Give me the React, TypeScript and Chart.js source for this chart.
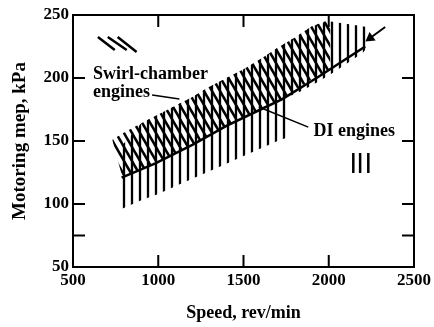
import React, { useEffect, useRef } from "react";
import { Chart, registerables } from "chart.js";

Chart.register(...registerables);

// ---- axes ----
const xTicks = [500, 1000, 1500, 2000, 2500];
const yTicks = [50, 100, 150, 200, 250];
const yMinorTicks = [75];

// ---- swirl-chamber engines band (diagonal hatch) ----
const swirlSpeed = [730, 790, 900, 1000, 1100, 1200, 1300, 1400, 1500, 1600, 1700, 1800, 1900, 1980, 2010];
const swirlUpper = [151, 156, 164, 171, 178, 185, 193, 200, 207, 215, 224, 232, 241, 245, 242];
const swirlLower = [151, 121, 127, 133, 140, 147, 155, 162, 169, 175, 181, 190, 199, 205, 208];

// ---- DI engines band (vertical hatch) ----
const diSpeed = [785, 900, 1000, 1100, 1200, 1300, 1400, 1500, 1600, 1700, 1760, 1770, 1800, 1900, 2000, 2100, 2200, 2230];
const diUpper = [146, 164, 171, 178, 185, 193, 200, 207, 215, 224, 229, 230, 232, 241, 245, 243, 241, 240];
const diLower = [96, 103, 108, 114, 120, 126, 132, 138, 144, 150, 153, 186, 187, 194, 202, 211, 220, 225];

// ---- DI mean line ----
const diMeanSpeed = [785, 980, 1200, 1400, 1600, 1725, 1940, 2214];
const diMeanMep = [121, 132, 147, 162, 175, 183, 201, 225];

// ---- arrow at upper right ----
const arrowSpeed = [2331, 2243];
const arrowMep = [240.5, 231.7];

// ---- leader lines [speed1, mep1, speed2, mep2] ----
const leaderSwirl = [964, 186.5, 1124, 183.3];
const leaderDI = [1590, 177, 1880, 161];

// ---- hatch keys ----
const swirlKey = [
  [646, 232.5, 745, 222.2],
  [704, 232.5, 815, 222.2],
  [762, 232.5, 873, 220.6],
];
const diKey = [
  [2144, 140.5, 2144, 124.6],
  [2184, 140.5, 2184, 124.6],
  [2232, 140.5, 2232, 124.6],
];

// ---- annotation texts [text, speed, mep] ----
const swirlLabel1 = ["Swirl-chamber", 617, 203];
const swirlLabel2 = ["engines", 617, 189];
const diLabel = ["DI engines", 1910, 158];

const xTitle = "Speed, rev/min";
const yTitle = "Motoring mep, kPa";

const FONT = "'Liberation Serif', 'Times New Roman', serif";

function pts(xs: number[], ys: number[]) {
  return xs.map((x, i) => ({ x, y: ys[i] }));
}

function segs(list: number[][]) {
  const out: any[] = [];
  list.forEach(([a, b, c, d]) => {
    out.push({ x: a, y: b }, { x: c, y: d }, { x: c, y: null });
  });
  return out;
}

function makePattern(kind: "v" | "d") {
  const c = document.createElement("canvas");
  const W = 8;
  const H = kind === "v" ? 8 : 14;
  c.width = W;
  c.height = H;
  const g = c.getContext("2d")!;
  g.strokeStyle = "#000";
  g.lineCap = "butt";
  g.beginPath();
  if (kind === "v") {
    g.lineWidth = 2.3;
    g.moveTo(W / 2, 0);
    g.lineTo(W / 2, H);
  } else {
    g.lineWidth = 2.6;
    for (const [dx, dy] of [[0, 0], [-W, 0], [W, 0], [0, -H], [0, H]]) {
      g.moveTo(dx, dy);
      g.lineTo(dx + W, dy + H);
    }
  }
  g.stroke();
  return g.createPattern(c, "repeat")!;
}

const framePlugin = {
  id: "frameTicks",
  afterDatasetsDraw(chart: any) {
    const { ctx, chartArea, scales } = chart;
    const { left, right, top, bottom } = chartArea;
    const x = scales.x;
    const y = scales.y;
    ctx.save();
    ctx.strokeStyle = "#000";
    ctx.lineWidth = 2;
    ctx.strokeRect(left, top, right - left, bottom - top);
    const tl = 12;
    ctx.beginPath();
    xTicks.slice(1, -1).forEach((v) => {
      const px = x.getPixelForValue(v);
      ctx.moveTo(px, bottom);
      ctx.lineTo(px, bottom - tl);
      ctx.moveTo(px, top);
      ctx.lineTo(px, top + tl);
    });
    [...yMinorTicks, ...yTicks.slice(1, -1)].forEach((v) => {
      const py = y.getPixelForValue(v);
      ctx.moveTo(left, py);
      ctx.lineTo(left + tl, py);
      ctx.moveTo(right, py);
      ctx.lineTo(right - tl, py);
    });
    ctx.stroke();

    ctx.fillStyle = "#000";
    ctx.font = `bold 18px ${FONT}`;
    ctx.textBaseline = "middle";
    ctx.textAlign = "left";
    [swirlLabel1, swirlLabel2, diLabel].forEach(([t, sx, sy]) => {
      ctx.fillText(t as string, x.getPixelForValue(sx as number), y.getPixelForValue(sy as number));
    });
    ctx.restore();
  },
};

export default function App() {
  const ref = useRef<HTMLCanvasElement>(null);
  useEffect(() => {
    document.body.style.margin = "0";
    const vPat = makePattern("v");
    const dPat = makePattern("d");
    const hidden = { borderWidth: 0, borderColor: "rgba(0,0,0,0)", pointRadius: 0 };
    const chart = new Chart(ref.current!, {
      type: "line",
      data: {
        datasets: [
          { data: pts(diSpeed, diUpper), fill: "+1", backgroundColor: vPat, ...hidden },
          { data: pts(diSpeed, diLower), fill: false, ...hidden },
          { data: pts(swirlSpeed, swirlUpper), fill: "+1", backgroundColor: dPat, ...hidden },
          { data: pts(swirlSpeed, swirlLower), fill: false, ...hidden },
          {
            data: pts(diMeanSpeed, diMeanMep),
            borderColor: "#000",
            borderWidth: 2.5,
            pointRadius: 0,
            fill: false,
          },
          {
            data: segs([leaderSwirl, leaderDI]),
            borderColor: "#000",
            borderWidth: 1.5,
            pointRadius: 0,
            fill: false,
            spanGaps: false,
          },
          {
            data: segs(swirlKey),
            borderColor: "#000",
            borderWidth: 2.5,
            pointRadius: 0,
            fill: false,
            spanGaps: false,
          },
          {
            data: segs(diKey),
            borderColor: "#000",
            borderWidth: 2.5,
            pointRadius: 0,
            fill: false,
            spanGaps: false,
          },
          {
            data: pts(arrowSpeed, arrowMep),
            borderColor: "#000",
            backgroundColor: "#000",
            borderWidth: 2,
            pointRadius: [0, 4],
            pointStyle: "triangle",
            rotation: 234,
            fill: false,
          },
        ],
      },
      options: {
        animation: false,
        responsive: false,
        events: [],
        layout: { padding: { top: 15, right: 18, left: 0, bottom: 0 } },
        plugins: { legend: { display: false }, tooltip: { enabled: false } },
        scales: {
          x: {
            type: "linear",
            min: xTicks[0],
            max: xTicks[xTicks.length - 1],
            afterFit: (s: any) => {
              s.height = 60;
            },
            afterBuildTicks: (s: any) => {
              s.ticks = xTicks.map((v) => ({ value: v }));
            },
            grid: { display: false, drawTicks: false },
            border: { display: false },
            ticks: {
              color: "#000",
              padding: 3,
              maxRotation: 0,
              callback: (v: any) => String(v),
              font: { family: FONT, size: 17, weight: "bold" },
            },
            title: {
              display: true,
              text: xTitle,
              color: "#000",
              padding: { top: 0, bottom: 3 },
              font: { family: FONT, size: 18, weight: "bold" },
            },
          },
          y: {
            type: "linear",
            min: yTicks[0],
            max: yTicks[yTicks.length - 1],
            afterFit: (s: any) => {
              s.width = 73;
            },
            afterBuildTicks: (s: any) => {
              s.ticks = yTicks.map((v) => ({ value: v }));
            },
            grid: { display: false, drawTicks: false },
            border: { display: false },
            ticks: {
              color: "#000",
              padding: 4,
              callback: (v: any) => String(v),
              font: { family: FONT, size: 17, weight: "bold" },
            },
            title: {
              display: true,
              text: yTitle,
              color: "#000",
              padding: { top: 9, bottom: 0 },
              font: { family: FONT, size: 19, weight: "bold" },
            },
          },
        },
      },
      plugins: [framePlugin],
    } as any);
    return () => chart.destroy();
  }, []);
  return (
    <div style={{ position: "absolute", left: 0, top: 0, width: 434, height: 327 }}>
      <canvas ref={ref} width={434} height={327} />
    </div>
  );
}
